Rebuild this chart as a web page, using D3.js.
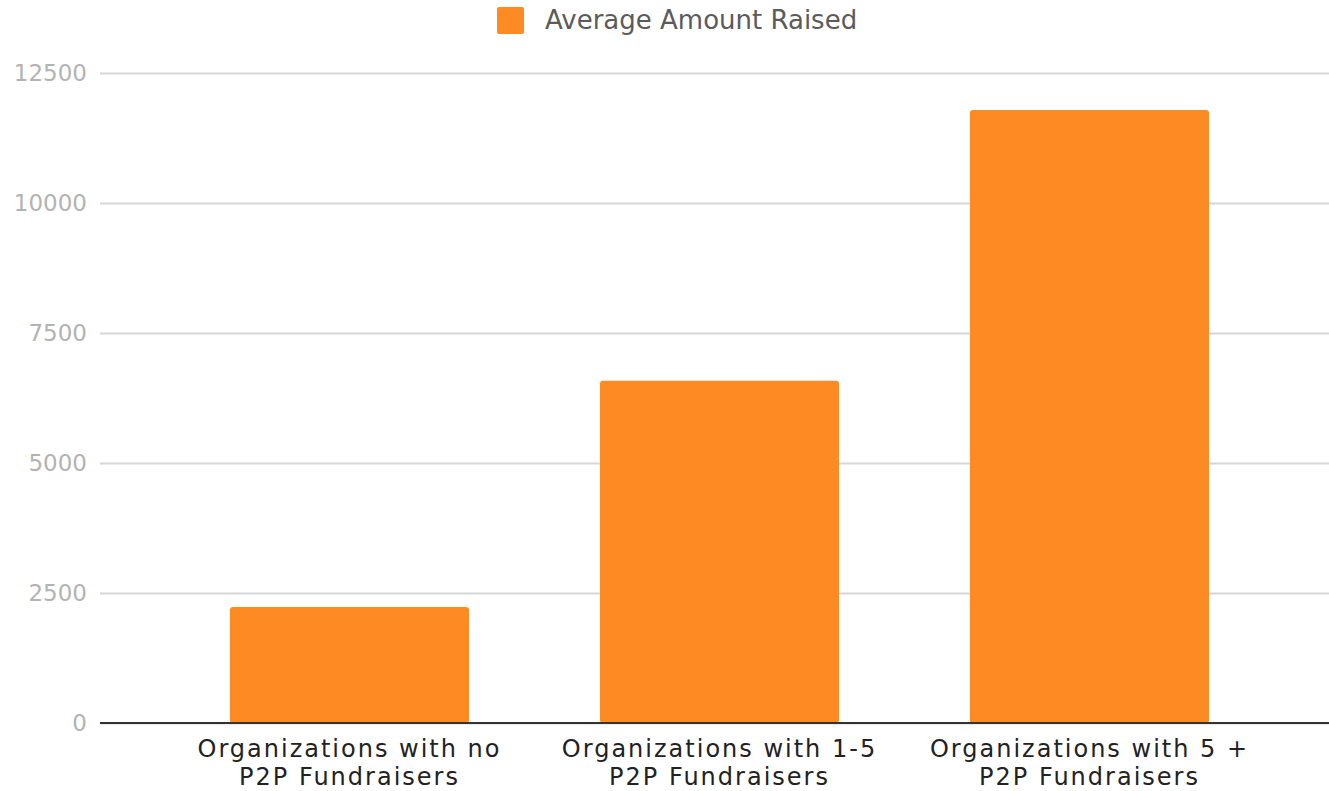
<!DOCTYPE html>
<html>
  <head>
    <meta charset="utf-8">
    <style type="text/css">
      body { margin: 0; background: #fff; font-family: "DejaVu Sans", sans-serif; }
      svg { display: block; }
    </style>
    <title>Average Amount Raised</title>
  </head>
  <body>
    <script src="https://cdn.jsdelivr.net/npm/d3@7"></script>
    <script>

/*========== Data ==========*/
const categories = [
  ["Organizations with no", "P2P Fundraisers"],
  ["Organizations with 1-5", "P2P Fundraisers"],
  ["Organizations with 5 +", "P2P Fundraisers"]
];
const amounts = [2230, 6580, 11790];
const yTicks = [0, 2500, 5000, 7500, 10000, 12500];
const seriesName = "Average Amount Raised";

/*========== Zones ==========*/
const width = 1329, height = 791;
const plot = {left: 100, right: 1329, top: 73, bottom: 723};
const barColor = "#fd8a22";

const svg = d3.select("body").append("svg")
    .attr("width", width)
    .attr("height", height);

// scales
const x = d3.scaleBand()
    .domain(d3.range(categories.length))
    .range([164.5, 1274.5])
    .paddingInner(0.354)
    .paddingOuter(0.177);

const y = d3.scaleLinear()
    .domain([0, 12500])
    .range([plot.bottom, plot.top]);

// gridlines + y labels
const yAxis = svg.append("g")
    .attr("transform", `translate(${plot.left},0)`)
    .call(d3.axisLeft(y)
      .tickValues(yTicks)
      .tickFormat(d3.format("d"))
      .tickSize(-(plot.right - plot.left))
      .tickPadding(13));
yAxis.select(".domain").remove();
yAxis.selectAll(".tick line")
    .attr("stroke", "#d6d6d6")
    .attr("stroke-width", 2);
yAxis.selectAll(".tick text")
    .attr("fill", "#b3b3b3")
    .attr("font-family", "DejaVu Sans, sans-serif")
    .attr("font-size", 23);

// bars
svg.append("g").selectAll("rect")
    .data(amounts)
    .enter()
    .append("rect")
      .attr("x", (d, i) => x(i))
      .attr("y", d => y(d))
      .attr("width", x.bandwidth())
      .attr("height", d => y(0) - y(d))
      .attr("rx", 3)
      .attr("fill", barColor);

// baseline
svg.append("line")
    .attr("x1", plot.left)
    .attr("x2", plot.right)
    .attr("y1", y(0))
    .attr("y2", y(0))
    .attr("stroke", "#333")
    .attr("stroke-width", 2);

// x labels (two lines each)
const xl = svg.append("g").selectAll("text")
    .data(categories)
    .enter()
    .append("text")
      .attr("x", (d, i) => x(i) + x.bandwidth() / 2)
      .attr("y", 757)
      .attr("text-anchor", "middle")
      .attr("fill", "#222")
      .attr("font-size", 24)
      .attr("letter-spacing", 2);
xl.selectAll("tspan")
    .data(d => d)
    .enter()
    .append("tspan")
      .attr("x", function () { return this.parentNode.getAttribute("x"); })
      .attr("dy", (d, i) => i === 0 ? 0 : 28)
      .text(d => d);

// legend
const legend = svg.append("g");
legend.append("rect")
    .attr("x", 497)
    .attr("y", 7)
    .attr("width", 27)
    .attr("height", 27)
    .attr("rx", 2)
    .attr("fill", barColor);
legend.append("text")
    .attr("x", 545)
    .attr("y", 29)
    .attr("fill", "#5b5b5b")
    .attr("font-size", 26)
    .text(seriesName);

    </script>
  </body>
</html>
